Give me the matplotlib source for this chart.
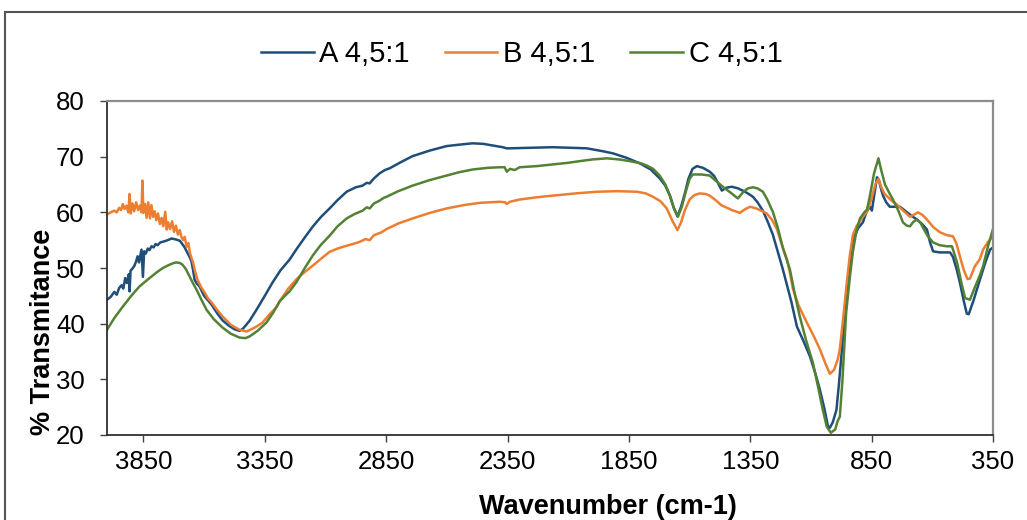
import matplotlib
matplotlib.use('Agg')
import matplotlib.pyplot as plt
import numpy as np
from matplotlib.patches import Rectangle

plt.rcParams['font.family'] = ['Liberation Sans', 'DejaVu Sans']

# FTIR spectra, (wavenumber cm-1, %T)
a_pts = [(4000, 44.3), (3985, 44.8), (3970, 45.7), (3960, 45.2), (3950, 46.4), (3940, 46.9), (3933, 46.3),
         (3925, 48.2), (3918, 47.3), (3910, 48.9), (3907, 45.8), (3903, 49.5), (3895, 49.9), (3887, 50.4),
         (3880, 51.2), (3874, 52.1), (3868, 51.0), (3862, 52.4), (3858, 53.3), (3852, 48.4), (3847, 53.0),
         (3840, 52.6), (3832, 53.5), (3825, 53.2), (3817, 53.9), (3808, 53.7), (3800, 54.3), (3792, 54.1),
         (3780, 54.6), (3763, 54.8), (3750, 55.0), (3734, 55.3), (3714, 55.1), (3700, 54.9), (3693, 54.5),
         (3680, 53.7), (3672, 53.0), (3660, 52.0), (3652, 51.2), (3645, 49.5), (3639, 47.9), (3630, 47.2),
         (3619, 46.7), (3600, 45.0), (3586, 44.3), (3569, 43.4), (3545, 41.8), (3524, 40.6), (3500, 39.7),
         (3475, 39.0), (3454, 38.7), (3440, 39.1), (3413, 40.5), (3384, 42.5), (3350, 45.0), (3318, 47.4),
         (3285, 49.6), (3248, 51.5), (3219, 53.4), (3185, 55.5), (3153, 57.4), (3120, 59.1), (3083, 60.7),
         (3050, 62.2), (3013, 63.7), (2975, 64.5), (2947, 64.8), (2930, 65.3), (2918, 65.2), (2900, 66.1),
         (2877, 67.0), (2855, 67.6), (2836, 67.9), (2790, 69.0), (2741, 70.1), (2670, 71.1), (2601, 71.9),
         (2540, 72.2), (2493, 72.4), (2450, 72.3), (2411, 72.0), (2370, 71.7), (2353, 71.5), (2340, 71.5),
         (2250, 71.6), (2164, 71.7), (2100, 71.6), (2024, 71.5), (1960, 71.0), (1916, 70.6), (1860, 69.8),
         (1805, 68.8), (1760, 67.7), (1723, 66.1), (1700, 64.8), (1681, 63.0), (1665, 60.8), (1650, 59.3),
         (1635, 61.0), (1620, 63.3), (1605, 66.0), (1588, 67.8), (1570, 68.3), (1545, 68.0), (1517, 67.3),
         (1500, 66.6), (1488, 65.7), (1475, 64.6), (1467, 63.9), (1450, 64.4), (1426, 64.6), (1400, 64.3),
         (1381, 63.9), (1360, 63.4), (1339, 62.8), (1320, 61.8), (1298, 60.3), (1278, 58.3), (1257, 56.0),
         (1237, 53.0), (1216, 49.8), (1199, 47.0), (1180, 43.8), (1158, 39.5), (1130, 36.8), (1104, 34.1),
         (1080, 30.8), (1063, 28.1), (1045, 24.8), (1030, 21.6), (1022, 21.3), (1010, 22.3), (995, 24.5),
         (985, 29.0), (970, 36.5), (952, 44.4), (940, 51.0), (927, 55.0), (905, 57.2), (886, 58.2),
         (870, 60.2), (857, 61.0), (849, 60.3), (843, 62.0), (828, 66.3), (820, 65.8), (810, 64.0),
         (803, 63.0), (790, 61.8), (775, 61.0), (755, 61.0), (733, 61.0), (704, 60.0), (680, 59.2),
         (663, 58.7), (640, 57.8), (622, 56.9), (610, 54.7), (597, 53.0), (570, 52.8), (540, 52.8),
         (527, 52.8), (515, 52.0), (500, 49.8), (486, 47.3), (470, 44.0), (458, 41.8), (450, 41.7),
         (430, 44.2), (404, 47.9), (380, 51.2), (362, 53.3), (350, 53.7)]

b_pts = [(4000, 59.6), (3985, 60.0), (3970, 60.3), (3960, 60.0), (3950, 60.8), (3942, 60.4), (3935, 61.5),
         (3928, 60.6), (3920, 61.2), (3912, 60.0), (3907, 63.3), (3902, 59.8), (3895, 61.6), (3888, 60.2),
         (3880, 61.8), (3872, 60.4), (3865, 61.2), (3858, 60.0), (3854, 65.7), (3850, 59.9), (3843, 61.5),
         (3837, 59.0), (3830, 61.8), (3823, 58.9), (3817, 61.3), (3810, 59.2), (3804, 60.2), (3797, 58.6),
         (3790, 59.8), (3782, 57.9), (3775, 59.0), (3768, 57.5), (3760, 60.1), (3754, 56.9), (3748, 58.2),
         (3740, 57.0), (3732, 58.4), (3724, 56.5), (3716, 57.6), (3708, 56.0), (3700, 56.8), (3693, 55.5),
         (3686, 55.0), (3680, 55.6), (3672, 53.8), (3665, 54.5), (3658, 52.6), (3652, 51.8), (3645, 50.9),
         (3639, 49.7), (3627, 47.9), (3613, 46.6), (3598, 45.6), (3585, 44.6), (3569, 43.8), (3545, 42.4),
         (3524, 41.3), (3490, 39.8), (3454, 38.9), (3425, 38.6), (3400, 39.1), (3380, 39.6), (3359, 40.2),
         (3330, 41.7), (3301, 43.0), (3289, 44.0), (3255, 46.2), (3219, 48.0), (3185, 49.3), (3153, 50.4),
         (3120, 51.6), (3083, 52.9), (3050, 53.5), (3013, 54.0), (2980, 54.4), (2959, 54.7), (2935, 55.2),
         (2918, 55.0), (2900, 55.9), (2870, 56.4), (2848, 57.0), (2800, 58.0), (2741, 58.9), (2670, 59.9),
         (2601, 60.7), (2530, 61.3), (2465, 61.7), (2382, 61.9), (2360, 61.8), (2353, 61.5), (2340, 61.9),
         (2300, 62.3), (2230, 62.7), (2164, 63.0), (2070, 63.4), (1982, 63.7), (1900, 63.8), (1817, 63.7),
         (1780, 63.4), (1751, 62.8), (1720, 62.0), (1694, 60.7), (1670, 58.4), (1650, 56.8), (1635, 58.2),
         (1620, 60.3), (1600, 62.3), (1580, 63.1), (1558, 63.4), (1535, 63.3), (1517, 63.0), (1490, 62.1),
         (1470, 61.3), (1455, 61.0), (1425, 60.4), (1393, 59.9), (1370, 60.6), (1350, 61.0), (1325, 60.7),
         (1300, 60.2), (1282, 59.8), (1260, 58.6), (1240, 57.0), (1220, 54.2), (1199, 51.6), (1185, 48.8),
         (1174, 46.2), (1150, 43.2), (1117, 40.2), (1090, 37.9), (1063, 35.4), (1040, 32.8), (1022, 31.0),
         (1005, 31.7), (990, 33.5), (981, 35.4), (966, 41.5), (952, 47.5), (940, 52.2), (927, 56.0),
         (911, 57.6), (886, 59.2), (869, 60.1), (850, 62.5), (835, 65.0), (822, 66.0), (810, 64.5),
         (798, 63.4), (787, 62.9), (765, 62.0), (746, 61.4), (720, 60.3), (692, 59.2), (675, 59.6),
         (659, 60.0), (640, 59.5), (622, 58.7), (595, 57.3), (568, 56.4), (540, 55.9), (515, 55.7),
         (500, 54.3), (486, 52.0), (470, 49.6), (455, 48.0), (445, 48.1), (425, 50.3), (404, 51.6),
         (391, 53.3), (370, 54.7), (350, 55.7)]

c_pts = [(4000, 38.9), (3970, 41.0), (3936, 43.0), (3900, 45.0), (3866, 46.7), (3830, 48.0), (3796, 49.2),
         (3770, 50.0), (3742, 50.6), (3725, 50.9), (3714, 51.0), (3700, 50.9), (3689, 50.6), (3675, 49.8),
         (3660, 48.5), (3645, 47.2), (3631, 46.1), (3610, 44.2), (3590, 42.5), (3560, 40.8), (3524, 39.3),
         (3490, 38.2), (3454, 37.5), (3430, 37.4), (3413, 37.7), (3380, 38.7), (3343, 40.2), (3315, 42.0),
         (3289, 44.0), (3260, 45.3), (3248, 45.8), (3219, 47.5), (3185, 50.0), (3153, 52.2), (3120, 54.1),
         (3083, 55.8), (3050, 57.5), (3013, 58.9), (2980, 59.7), (2947, 60.3), (2930, 60.9), (2918, 60.7),
         (2900, 61.6), (2877, 62.1), (2860, 62.6), (2848, 62.8), (2800, 63.8), (2741, 64.8), (2670, 65.8),
         (2601, 66.6), (2550, 67.2), (2493, 67.7), (2430, 68.0), (2382, 68.1), (2362, 68.1), (2353, 67.3),
         (2340, 67.8), (2320, 67.6), (2300, 68.1), (2230, 68.3), (2164, 68.6), (2100, 68.9), (2052, 69.2),
         (2000, 69.5), (1941, 69.7), (1890, 69.5), (1846, 69.2), (1800, 68.8), (1776, 68.4), (1750, 67.8),
         (1723, 66.6), (1700, 65.0), (1681, 63.0), (1665, 60.8), (1648, 59.2), (1632, 61.0), (1615, 63.8),
         (1600, 66.0), (1587, 66.8), (1550, 66.8), (1517, 66.6), (1490, 65.6), (1463, 64.6), (1430, 63.5),
         (1401, 62.5), (1380, 63.6), (1360, 64.3), (1339, 64.5), (1320, 64.3), (1298, 63.7), (1280, 62.3),
         (1257, 60.1), (1237, 57.3), (1215, 53.5), (1187, 49.8), (1165, 45.0), (1146, 41.3), (1120, 37.0),
         (1092, 33.0), (1070, 28.5), (1051, 24.5), (1035, 21.5), (1018, 20.4), (1000, 21.0), (990, 22.5),
         (981, 23.3), (970, 30.0), (955, 42.0), (939, 48.6), (927, 53.0), (912, 56.8), (898, 58.9),
         (880, 60.0), (869, 60.5), (857, 63.0), (840, 67.0), (822, 69.7), (810, 67.5), (795, 65.0),
         (775, 63.3), (762, 62.3), (740, 60.3), (721, 58.2), (705, 57.6), (692, 57.5), (678, 58.3),
         (663, 58.7), (650, 58.2), (639, 57.3), (620, 55.8), (597, 54.6), (570, 54.1), (540, 53.9),
         (519, 53.9), (498, 51.0), (480, 47.3), (465, 44.6), (445, 44.3), (425, 46.5), (405, 48.6),
         (391, 50.3), (370, 54.0), (350, 57.0)]

labels = ['A 4,5:1', 'B 4,5:1', 'C 4,5:1']
colors = ['#1F4E79', '#ED7D31', '#548235']
xticks = [3850, 3350, 2850, 2350, 1850, 1350, 850, 350]
yticks = [20, 30, 40, 50, 60, 70, 80]

W, H = 1027, 520
fig = plt.figure(figsize=(W / 100, H / 100), dpi=100)
ax = fig.add_axes([107 / W, 1 - 435 / H, (993 - 107) / W, (435 - 101) / H])

lines = []
for pts, lab, col in zip([a_pts, b_pts, c_pts], labels, colors):
    x, y = np.array(pts).T
    ln, = ax.plot(x, y, color=col, lw=1.8, label=lab, solid_joinstyle='round')
    lines.append(ln)

ax.set_xlim(4000, 350)
ax.set_ylim(20, 80)
ax.set_xticks(xticks)
ax.set_yticks(yticks)
ax.tick_params(axis='both', direction='out', length=5, width=1, color='#404040',
               labelsize=18.5, labelcolor='black')
ax.tick_params(axis='x', pad=6)
ax.tick_params(axis='y', pad=11)

for s in ['left', 'bottom']:
    ax.spines[s].set_color('#303030')
    ax.spines[s].set_linewidth(1.3)
for s in ['top', 'right']:
    ax.spines[s].set_color('#8c8c8c')
    ax.spines[s].set_linewidth(1.6)

fig.text(43 / W, 1 - 332 / H, '% Transmitance', rotation=90, ha='center', va='center',
         fontsize=19.5, fontweight='bold')
fig.text(608 / W, 1 - 507 / H, 'Wavenumber (cm-1)', ha='center', va='center',
         fontsize=19.5, fontweight='bold')

fig.legend(handles=lines, labels=labels, loc='center', bbox_to_anchor=(0.508, 1 - 54 / H),
           ncol=3, frameon=False, fontsize=21, handlelength=1.8, handletextpad=0.2,
           columnspacing=1.2)

# outer chart border
fig.patches.append(Rectangle((5 / W, -0.05), 1.0, 1.05 - 12 / H, transform=fig.transFigure,
                             fill=False, edgecolor='#555555', lw=1.5))

fig.savefig('out.png', dpi=100)
